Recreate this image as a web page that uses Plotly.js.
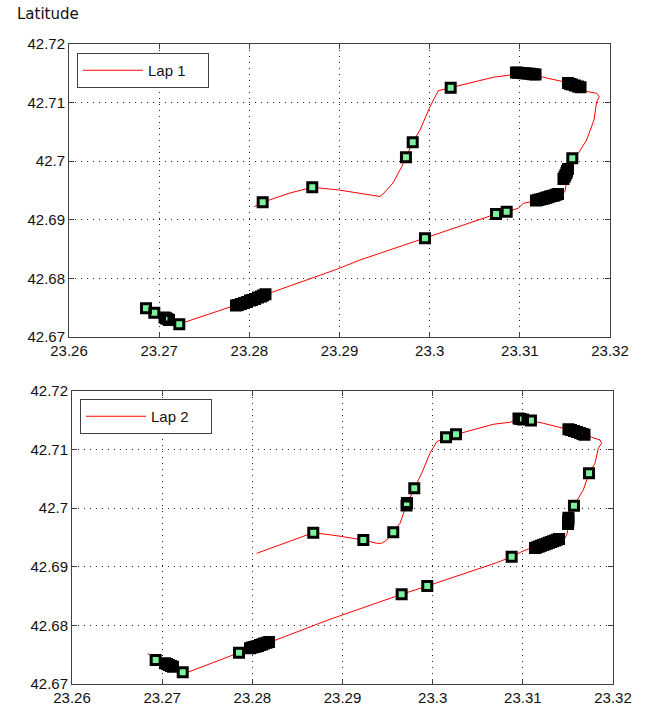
<!DOCTYPE html>
<html><head><meta charset="utf-8">
<script src="https://cdn.plot.ly/plotly-3.0.1.min.js"></script>
<style>html,body{margin:0;padding:0;background:#fff}#chart{width:646px;height:708px}</style>
</head><body><div id="chart"></div>
<script>
const xTickVals = [23.26, 23.27, 23.28, 23.29, 23.30, 23.31, 23.32];
const xTickText = ["23.26", "23.27", "23.28", "23.29", "23.3", "23.31", "23.32"];
const yTickVals = [42.67, 42.68, 42.69, 42.70, 42.71, 42.72];
const yTickText = ["42.67", "42.68", "42.69", "42.7", "42.71", "42.72"];
const seriesNames = ["Lap 1", "Lap 2"];

const lap1PathLon = [23.28055,23.28148,23.28451,23.28698,23.28991,23.29227,23.29412,23.29449,23.29482,23.29593,23.29690,23.29737,23.29812,23.29893,23.30004,23.30096,23.30233,23.30447,23.30706,23.30891,23.30965,23.31057,23.31149,23.31260,23.31482,23.31537,23.31648,23.31759,23.31852,23.31881,23.31852,23.31822,23.31741,23.31648,23.31582,23.31534,23.31501,23.31512,23.31501,23.31445,23.31279,23.31113,23.31038,23.30983,23.30854,23.30736,23.29948,23.29227,23.28969,23.28210,23.28007,23.27822,23.27223,23.27120,23.27046,23.26946,23.26854];
const lap1PathLat = [42.69224,42.69299,42.69457,42.69555,42.69509,42.69457,42.69406,42.69398,42.69440,42.69628,42.69906,42.70067,42.70322,42.70532,42.70930,42.71203,42.71254,42.71340,42.71432,42.71471,42.71510,42.71497,42.71483,42.71432,42.71357,42.71317,42.71261,42.71186,42.71159,42.71101,42.71015,42.70703,42.70362,42.70135,42.70050,42.69884,42.69679,42.69594,42.69480,42.69440,42.69381,42.69304,42.69282,42.69196,42.69138,42.69099,42.68684,42.68314,42.68155,42.67746,42.67631,42.67529,42.67222,42.67290,42.67341,42.67415,42.67490];

const lap1MarkLon = [23.28148,23.28698,23.29737,23.29812,23.30233,
 23.30957,23.30980,23.31013,23.31046,23.31079,23.31113,23.31146,23.31174,
 23.31534,23.31556,23.31578,23.31612,23.31645,23.31673,
 23.31582,
 23.31534,23.31523,23.31517,23.31506,23.31495,23.31484,
 23.31423,23.31401,23.31379,23.31357,23.31334,23.31312,23.31290,23.31268,23.31246,23.31223,23.31201,23.31179,
 23.30854,23.30736,23.29948,
 23.28179,23.28152,23.28129,23.28096,23.28063,23.28030,23.28007,23.27974,23.27941,23.27907,23.27874,23.27852,
 23.27223,
 23.27059,23.27076,23.27092,23.27109,
 23.26946,23.26854];
const lap1MarkLat = [42.69299,42.69555,42.70067,42.70322,42.71254,
 42.71514,42.71509,42.71505,42.71502,42.71497,42.71491,42.71483,42.71480,
 42.71334,42.71317,42.71309,42.71292,42.71275,42.71261,
 42.70050,
 42.69867,42.69833,42.69799,42.69765,42.69730,42.69696,
 42.69440,42.69427,42.69415,42.69406,42.69396,42.69386,42.69375,42.69365,42.69355,42.69346,42.69338,42.69329,
 42.69138,42.69099,42.68684,
 42.67729,42.67708,42.67691,42.67674,42.67648,42.67631,42.67623,42.67597,42.67580,42.67563,42.67546,42.67538,
 42.67217,
 42.67333,42.67319,42.67307,42.67290,
 42.67415,42.67490];

const lap2PathLon = [23.28048,23.28362,23.28676,23.28936,23.29231,23.29379,23.29435,23.29490,23.29563,23.29638,23.29712,23.29796,23.29878,23.29970,23.30045,23.30148,23.30259,23.30414,23.30672,23.30858,23.30950,23.31098,23.31227,23.31449,23.31523,23.31670,23.31764,23.31856,23.31874,23.31837,23.31800,23.31734,23.31670,23.31567,23.31504,23.31497,23.31493,23.31467,23.31279,23.31079,23.30987,23.30876,23.30710,23.29940,23.29656,23.28861,23.28232,23.27852,23.27272,23.27228,23.27087,23.26998,23.26928,23.26840];
const lap2PathLat = [42.69230,42.69406,42.69582,42.69531,42.69457,42.69401,42.69401,42.69457,42.69589,42.69742,42.70067,42.70340,42.70596,42.70937,42.71135,42.71210,42.71261,42.71323,42.71432,42.71466,42.71522,42.71493,42.71449,42.71364,42.71343,42.71278,42.71210,42.71164,42.71108,42.71022,42.70766,42.70596,42.70311,42.70043,42.69845,42.69742,42.69572,42.69486,42.69415,42.69316,42.69258,42.69172,42.69070,42.68672,42.68531,42.68104,42.67734,42.67534,42.67193,42.67200,42.67290,42.67358,42.67410,42.67524];

const lap2MarkLon = [23.28676,23.29231,23.29563,23.29715,23.29710,23.29796,23.30148,23.30259,
 23.30952,23.30974,23.31002,23.31090,
 23.31506,23.31534,23.31567,23.31600,23.31634,23.31662,23.31684,
 23.31734,23.31567,
 23.31506,23.31504,23.31503,23.31501,
 23.31401,23.31379,23.31357,23.31334,23.31312,23.31290,23.31268,23.31246,23.31223,23.31201,23.31179,23.31157,23.31135,
 23.30876,23.29940,23.29656,
 23.28185,23.28157,23.28129,23.28107,23.28085,23.28063,23.28041,23.28018,23.27996,23.27974,
 23.27852,23.27228,
 23.27120,23.27098,23.27076,23.27054,23.27031,
 23.26928];
const lap2MarkLat = [42.69582,42.69457,42.69589,42.70089,42.70046,42.70340,42.71210,42.71261,
 42.71531,42.71522,42.71514,42.71497,
 42.71346,42.71334,42.71317,42.71300,42.71283,42.71266,42.71254,
 42.70596,42.70043,
 42.69838,42.69799,42.69765,42.69730,
 42.69474,42.69462,42.69449,42.69437,42.69423,42.69410,42.69398,42.69384,42.69372,42.69358,42.69346,42.69333,42.69321,
 42.69172,42.68672,42.68531,
 42.67717,42.67705,42.67691,42.67674,42.67666,42.67648,42.67640,42.67631,42.67623,42.67609,
 42.67534,42.67200,
 42.67295,42.67307,42.67324,42.67341,42.67353,
 42.67410];

const LINE_RED = '#ff0000';
const FACE = '#7df29c';
const AX = '#404040';
const FONT = 'Liberation Sans, Arial, sans-serif';

function lapTraces(pLon, pLat, mLon, mLat, name, xa, ya, leg) {
  return [
    {type:'scatter', mode:'lines', x:pLon, y:pLat, name:name, xaxis:xa, yaxis:ya, legend:leg,
     line:{color:LINE_RED, width:1}, hoverinfo:'skip'},
    {type:'scatter', mode:'markers', x:mLon, y:mLat, xaxis:xa, yaxis:ya, showlegend:false,
     marker:{symbol:'square', size:9, color:FACE, line:{width:0}}, hoverinfo:'skip'},
    {type:'scatter', mode:'markers', x:mLon, y:mLat, xaxis:xa, yaxis:ya, showlegend:false,
     marker:{symbol:'square-open', size:9, color:'#000', line:{width:3, color:'#000'}}, hoverinfo:'skip'}
  ];
}

const data = [].concat(
  lapTraces(lap1PathLon, lap1PathLat, lap1MarkLon, lap1MarkLat, seriesNames[0], 'x', 'y', 'legend'),
  lapTraces(lap2PathLon, lap2PathLat, lap2MarkLon, lap2MarkLat, seriesNames[1], 'x2', 'y2', 'legend2')
);

function xaxis(domain, anchor) {
  return {domain:domain, anchor:anchor, range:[23.26, 23.32], tickmode:'array', tickvals:xTickVals, ticktext:xTickText,
    showgrid:true, gridcolor:'#222', griddash:'1px,5px', gridwidth:1, zeroline:false,
    showline:true, linecolor:AX, linewidth:1, mirror:'ticks', ticks:'inside', ticklen:5, tickcolor:AX,
    tickfont:{family:FONT, size:15, color:'#111'}, fixedrange:true};
}
function yaxis(domain, anchor) {
  return {domain:domain, anchor:anchor, range:[42.67, 42.72], tickmode:'array', tickvals:yTickVals, ticktext:yTickText,
    showgrid:true, gridcolor:'#222', griddash:'1px,5px', gridwidth:1, zeroline:false,
    showline:true, linecolor:AX, linewidth:1, mirror:'ticks', ticks:'inside', ticklen:5, tickcolor:AX,
    tickfont:{family:FONT, size:15, color:'#111'}, fixedrange:true};
}
function legendBox(x, y) {
  return {x:x, y:y, xanchor:'left', yanchor:'top', bgcolor:'#fff', bordercolor:AX, borderwidth:1,
    orientation:'h', entrywidth:55, entrywidthmode:'pixels',
    font:{family:FONT, size:15, color:'#111'}, itemwidth:60, tracegroupgap:0};
}

const W = 646, H = 708;
const layout = {
  width:W, height:H, margin:{l:0, r:0, t:0, b:0},
  paper_bgcolor:'#fff', plot_bgcolor:'#fff', showlegend:true,
  xaxis: xaxis([69/W, 610/W], 'y'),
  yaxis: yaxis([1-337/H, 1-44/H], 'x'),
  xaxis2: xaxis([72/W, 613/W], 'y2'),
  yaxis2: yaxis([1-684/H, 1-391/H], 'x2'),
  legend: legendBox(77/W, 1-53/H),
  legend2: legendBox(80/W, 1-399/H),
  annotations:[{text:'Latitude', xref:'paper', yref:'paper', x:15/W, y:1-14/H, xanchor:'left', yanchor:'middle',
    showarrow:false, font:{family:'DejaVu Sans, sans-serif', size:15, color:'#111'}}]
};

Plotly.newPlot('chart', data, layout, {staticPlot:true, displayModeBar:false});
</script>
</body></html>
